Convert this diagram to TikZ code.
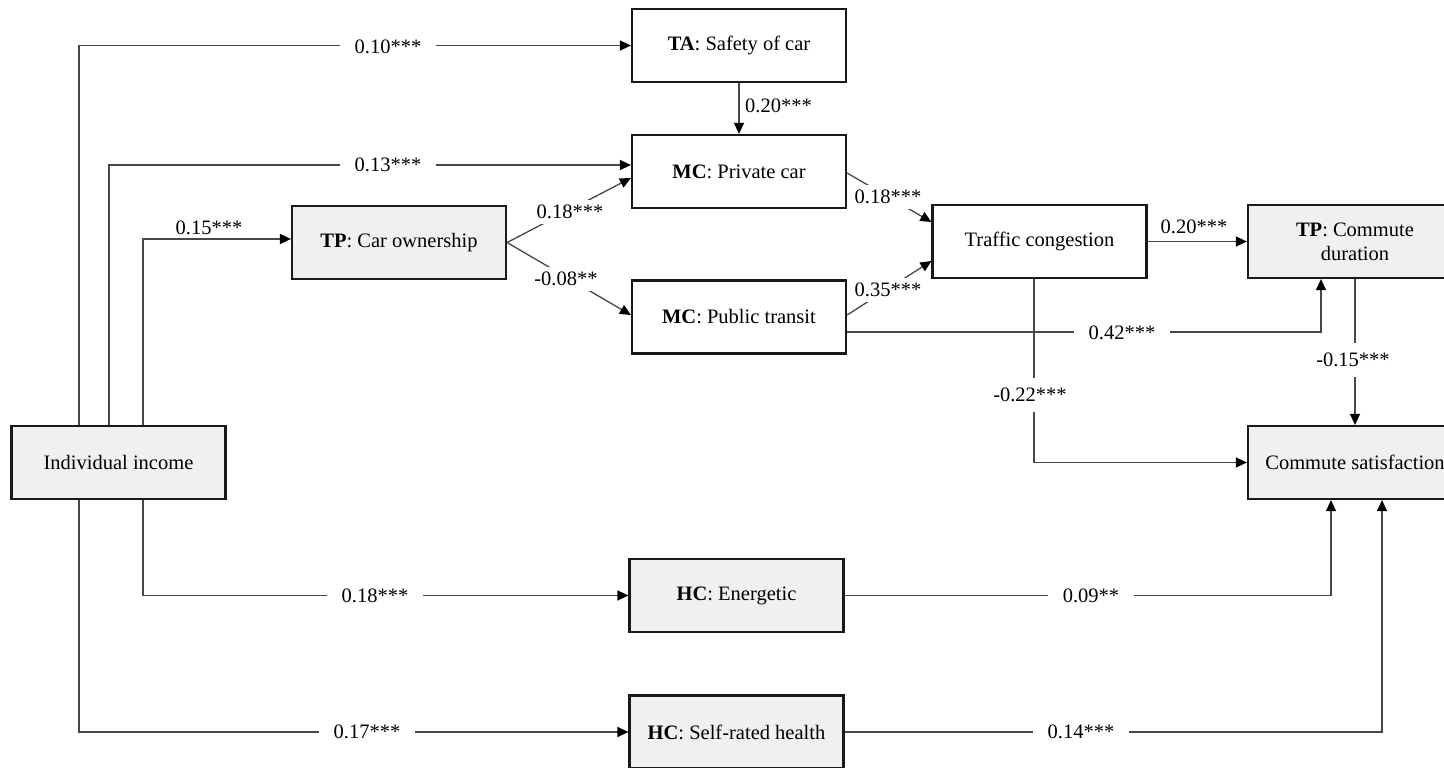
\documentclass[tikz,border=0pt]{standalone}
\usepackage{fontspec}
\setmainfont{Liberation Serif}
\usetikzlibrary{arrows.meta}
\definecolor{boxgray}{RGB}{240,240,240}
\begin{document}
\begin{tikzpicture}[x=1pt,y=-1pt,
  every node/.style={font=\fontsize{20.5}{24}\selectfont},
  box/.style={draw=black!90, line width=2.2pt, minimum width=214pt, minimum height=73pt, inner sep=0pt, align=center},
  grey/.style={box, fill=boxgray},
  plain/.style={box, fill=white},
  conn/.style={draw=black!72, line width=1.3pt, -{Triangle[length=11pt,width=10pt,color=black]}},
  lbl/.style={fill=white, inner xsep=15pt, inner ysep=10pt},
  dlbl/.style={fill=white, inner sep=5pt},
  tag/.style={inner sep=0pt}]

\useasboundingbox (0,0) rectangle (1444,768);
\clip (0,0) rectangle (1444,768);

% variables
\node[grey]  (inc)  at (118.5,462.5) {Individual income};
\node[plain] (ta)   at (739,45.5)    {\textbf{TA}: Safety of car};
\node[plain] (mcp)  at (739,171.5)   {\textbf{MC}: Private car};
\node[grey]  (tpc)  at (399,242.5)   {\textbf{TP}: Car ownership};
\node[plain] (mcpt) at (739,317)     {\textbf{MC}: Public transit};
\node[plain] (tc)   at (1039.5,241.5){Traffic congestion};
\node[grey]  (tpd)  at (1355,241.5)  {\textbf{TP}: Commute\\duration};
\node[grey]  (cs)   at (1355,462.5)  {Commute satisfaction};
\node[grey]  (hce)  at (736.5,595.5) {\textbf{HC}: Energetic};
\node[grey]  (hcs)  at (736.5,732)   {\textbf{HC}: Self-rated health};

% rails and levels used by the elbow connectors
\coordinate (r1) at (79,0);
\coordinate (r2) at (109,0);
\coordinate (r3) at (143,0);
\coordinate (y13) at (0,165);
\coordinate (y15) at (0,239);
\coordinate (yp) at (0,178);
\coordinate (ypt) at (0,315);
\coordinate (ym) at (0,173);
\coordinate (yc1) at (0,222);
\coordinate (yc2) at (0,261);
\coordinate (y42) at (0,332);
\coordinate (x42) at (1321,0);
\coordinate (xtc) at (1034,0);
\coordinate (xe) at (1331,0);
\coordinate (xs) at (1382,0);

% paths
\draw[conn] (inc.north -| r1) |- (ta.west);
\draw[conn] (inc.north -| r2) |- (mcp.west |- y13);
\draw[conn] (inc.north -| r3) |- (tpc.west |- y15);
\draw[conn] (inc.south -| r3) |- (hce.west);
\draw[conn] (inc.south -| r1) |- (hcs.west);
\draw[conn] (ta) -- (mcp);
\draw[conn] (tpc.east) -- (mcp.west |- yp);
\draw[conn] (tpc.east) -- (mcpt.west |- ypt);
\draw[conn] (mcp.east |- ym) -- (tc.west |- yc1);
\draw[conn] (mcpt.east |- ypt) -- (tc.west |- yc2);
\draw[conn] (tc) -- (tpd);
\draw[conn] (mcpt.east |- y42) -| (tpd.south -| x42);
\draw[conn] (tc.south -| xtc) |- (cs.west);
\draw[conn] (tpd) -- (cs);
\draw[conn] (hce.east) -| (cs.south -| xe);
\draw[conn] (hcs.east) -| (cs.south -| xs);

% path coefficients
\node[lbl]  (l1)  at (388,47)    {0.10***};
\node[lbl]  (l2)  at (388,165)   {0.13***};
\node[tag]  (l3)  at (209,228)   {0.15***};
\node[tag, anchor=west] (l4) at (745,106) {0.20***};
\node[dlbl] (l5)  at (570,212)   {0.18***};
\node[dlbl] (l6)  at (566,279)   {-0.08**};
\node[dlbl] (l7)  at (888,197)   {0.18***};
\node[dlbl] (l8)  at (888,290)   {0.35***};
\node[tag]  (l9)  at (1194,227)  {0.20***};
\node[lbl]  (l10) at (1122,333)  {0.42***};
\node[lbl]  (l11) at (1030,395)  {-0.22***};
\node[lbl]  (l12) at (1353,360)  {-0.15***};
\node[lbl]  (l13) at (375,596)   {0.18***};
\node[lbl]  (l14) at (367,732)   {0.17***};
\node[lbl]  (l15) at (1091,596)  {0.09**};
\node[lbl]  (l16) at (1081,732)  {0.14***};
\end{tikzpicture}
\end{document}
